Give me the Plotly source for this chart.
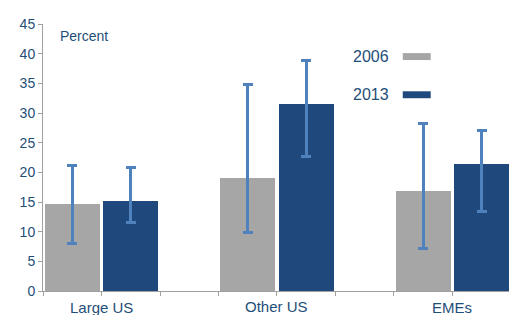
import plotly.graph_objects as go

categories = ["Large US", "Other US", "EMEs"]
years = ["2006", "2013"]
v2006 = [14.6, 19.0, 16.8]
v2013 = [15.1, 31.5, 21.4]
hi2006 = [21.2, 34.8, 28.2]
lo2006 = [8.0, 9.8, 7.15]
hi2013 = [20.75, 38.9, 27.1]
lo2013 = [11.5, 22.6, 13.45]

gray = "#a6a6a6"
navy = "#1f497d"
errc = "#4f81bd"
txt = "#1f4e79"

x2006 = [3 * i for i in range(len(categories))]
x2013 = [3 * i + 1 for i in range(len(categories))]

fig = go.Figure()
fig.add_trace(go.Bar(
    x=x2006, y=v2006, width=0.94, marker=dict(color=gray, line=dict(width=0)),
    name=years[0],
    error_y=dict(type="data", symmetric=False,
                 array=[h - v for h, v in zip(hi2006, v2006)],
                 arrayminus=[v - l for l, v in zip(lo2006, v2006)],
                 color=errc, thickness=3, width=5),
))
fig.add_trace(go.Bar(
    x=x2013, y=v2013, width=0.94, marker=dict(color=navy, line=dict(width=0)),
    name=years[1],
    error_y=dict(type="data", symmetric=False,
                 array=[h - v for h, v in zip(hi2013, v2013)],
                 arrayminus=[v - l for l, v in zip(lo2013, v2013)],
                 color=errc, thickness=3, width=5),
))

annotations = []
for i, c in enumerate(categories):
    annotations.append(dict(
        x=3 * i + 0.5, y=0, xref="x", yref="paper", text=c, showarrow=False,
        yanchor="top", yshift=-(5 if i == 1 else 6),
        font=dict(size=15, color=txt, family="Liberation Sans, Arial")))
annotations.append(dict(x=0.033, y=0.955, xref="paper", yref="paper", text="Percent",
                        showarrow=False, xanchor="left", yanchor="middle",
                        font=dict(size=14, color=txt, family="Liberation Sans, Arial")))
legend_y = [0.878, 0.735]
cols = [gray, navy]
shapes = []
for yr, ly, col in zip(years, legend_y, cols):
    annotations.append(dict(x=0.66, y=ly, xref="paper", yref="paper", text=yr,
                            showarrow=False, xanchor="left", yanchor="middle",
                            font=dict(size=16, color=txt, family="Liberation Sans, Arial")))
    shapes.append(dict(type="rect", xref="paper", yref="paper",
                       x0=0.772, x1=0.832, y0=ly - 0.013, y1=ly + 0.013,
                       fillcolor=col, line=dict(width=0)))

fig.update_layout(
    width=509, height=315,
    margin=dict(l=43, r=0, t=24, b=24, pad=0, autoexpand=False),
    paper_bgcolor="white", plot_bgcolor="white",
    showlegend=False, bargap=0,
    annotations=annotations, shapes=shapes,
    xaxis=dict(range=[-0.5, 7.466], tickvals=[k - 0.5 for k in range(9)],
               showticklabels=False, ticks="outside", ticklen=4, tickcolor="#a0a0a0",
               showline=True, linecolor="#a0a0a0", linewidth=1, showgrid=False,
               zeroline=False, automargin=False),
    yaxis=dict(range=[0, 45], dtick=5, ticks="outside", ticklen=4, tickcolor="#a0a0a0",
               showline=True, linecolor="#a0a0a0", linewidth=1, showgrid=False,
               zeroline=False, automargin=False,
               tickfont=dict(size=14, color=txt, family="Liberation Sans, Arial")),
)
fig.write_html("out.html", config={"displayModeBar": False},
               post_script="document.body.style.margin='0';document.body.style.padding='0';document.body.style.overflow='hidden';")
